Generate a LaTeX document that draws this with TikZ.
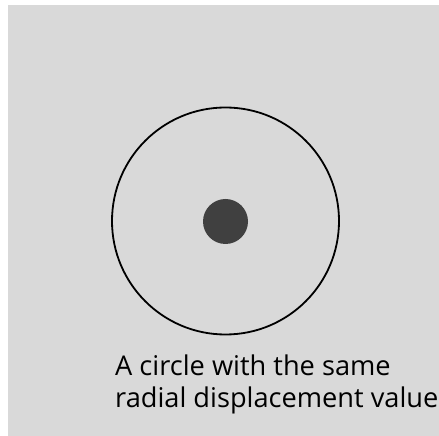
\documentclass[tikz,border=0pt]{standalone}
\usepackage{fontspec}
\setmainfont{Open Sans}
\definecolor{bggray}{HTML}{D9D9D9}
\definecolor{dotgray}{HTML}{404040}
\tikzset{
  ring/.style={draw=black, line width=1.8pt},
  dot/.style={circle, fill=dotgray, inner sep=0pt, minimum size=45pt},
  caption/.style={anchor=base west, inner sep=0pt, font=\fontsize{27.2}{32}\selectfont, align=left}
}
\begin{document}
\begin{tikzpicture}[x=1pt,y=1pt]
\useasboundingbox (0,0) rectangle (439,436);
\fill[bggray] (8,0) rectangle (439,431);
\coordinate (c) at (225.5,215);
\draw[ring] (c) circle (113.5);
\node[dot] (d) at (225.5,214.5) {};
\node[caption] (t1) at (115,60) {A circle with the same};
\node[caption] (t2) at (115,28) {radial displacement value};
\end{tikzpicture}
\end{document}
